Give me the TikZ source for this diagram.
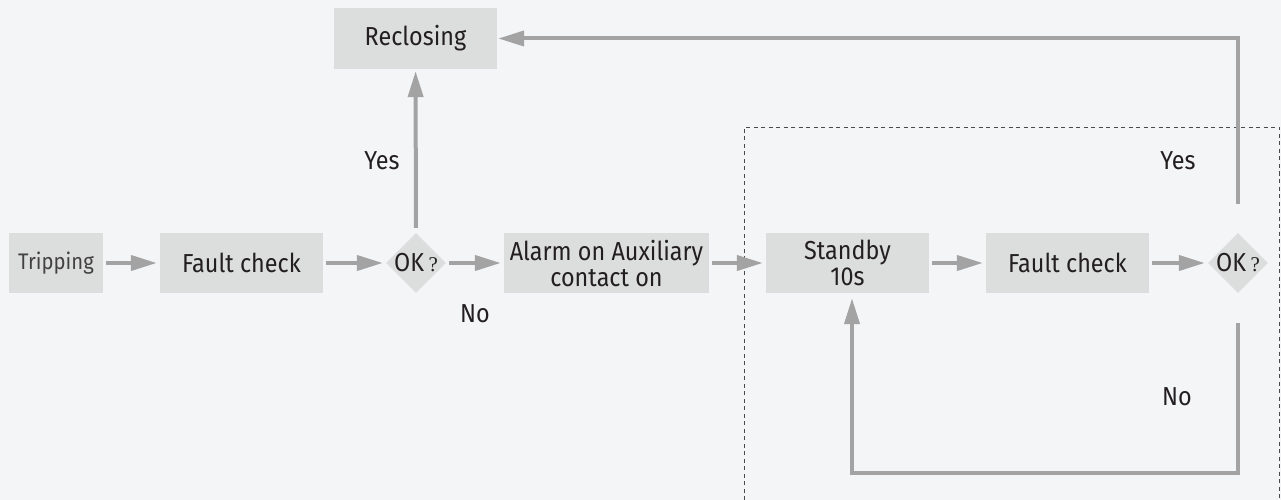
\documentclass[tikz,border=0pt]{standalone}
\usepackage{fontspec}
\setmainfont{Fira Sans}[FakeStretch=0.9]
\newfontfamily\qmarkfont{Liberation Serif}
\usetikzlibrary{arrows.meta,shapes.geometric}
\definecolor{bg}{HTML}{F4F5F7}
\definecolor{boxfill}{HTML}{DCDDDD}
\definecolor{arrowgray}{HTML}{A3A3A3}
\definecolor{ink}{HTML}{231F20}
\definecolor{framegray}{HTML}{4A4A4A}
\newcommand{\okq}{OK\,{\qmarkfont\fontsize{21}{22}\selectfont ?}}
\begin{document}
\begin{tikzpicture}[x=1pt,y=-1pt,
  txt/.style={text=ink, font=\fontsize{26}{26}\selectfont},
  procbox/.style={txt, fill=boxfill, draw=none, inner sep=0pt,
    minimum height=60pt, align=center},
  decbox/.style={diamond, fill=boxfill, draw=none, inner sep=0pt,
    minimum width=60pt, minimum height=60pt},
  flow/.style={draw=arrowgray, line width=4pt,
    -{Triangle[length=26pt,width=15pt]}, shorten <=3pt, shorten >=3pt},
  tag/.style={txt, inner sep=0pt}]
  % canvas
  \useasboundingbox (0,0) rectangle (1281,500);
  \fill[bg] (0,0) rectangle (1281,500);

  % dashed frame around the retry loop
  \draw[framegray, line width=1pt, dash pattern=on 4pt off 3.5pt]
    (744,500) -- (744,127) -- (1279,127) -- (1279,500);

  % main row
  \node[procbox, minimum width=94pt, font=\fontsize{22.5}{24}\selectfont,
        text=ink!85] (trip) at (56,263) {Tripping};
  \node[procbox, minimum width=163pt] (fc1) at (241.5,263) {Fault check};
  \node[decbox] (ok1) at (416,263) {};
  \node[txt, inner sep=0pt] (ok1t) at (ok1.center) {\okq};
  \node[procbox, minimum width=205pt, text depth=0pt] (alarm) at (606.5,263)
    {Alarm on Auxiliary\\contact on};
  \node[procbox, minimum width=163pt] (standby) at (847.5,263) {Standby\\10s};
  \node[procbox, minimum width=163pt] (fc2) at (1067.5,263) {Fault check};
  \node[decbox] (ok2) at (1238,263) {};
  \node[txt, inner sep=0pt] (ok2t) at (ok2.center) {\okq};

  % reclosing
  \node[procbox, minimum width=163pt, minimum height=61pt] (recl) at (415.5,38.5) {Reclosing};

  % labels
  \node[tag] (yes1) at (382,161) {Yes};
  \node[tag] (no1) at (475,314) {No};
  \node[tag] (yes2) at (1178,161) {Yes};
  \node[tag] (no2) at (1177,397) {No};

  % turning points
  \coordinate (yesturn) at (ok2.center |- recl.east);
  \coordinate (noturnR) at (1238,473);
  \coordinate (noturnL) at (852,473);

  % connectors
  \draw[flow] (trip) -- (fc1);
  \draw[flow] (fc1) -- (ok1);
  \draw[flow] (ok1) -- (alarm);
  \draw[flow] (alarm) -- (standby);
  \draw[flow] (standby) -- (fc2);
  \draw[flow] (fc2) -- (ok2);
  \draw[flow, shorten <=5pt, shorten >=2pt] (ok1) -- (recl);
  \draw[flow, shorten <=29pt, shorten >=1pt] (ok2.north) -- (yesturn) -- (recl.east);
  \draw[flow, shorten <=30pt, shorten >=5pt] (ok2.south) -- (noturnR) -- (noturnL)
    -- (noturnL |- standby.south);
\end{tikzpicture}
\end{document}
